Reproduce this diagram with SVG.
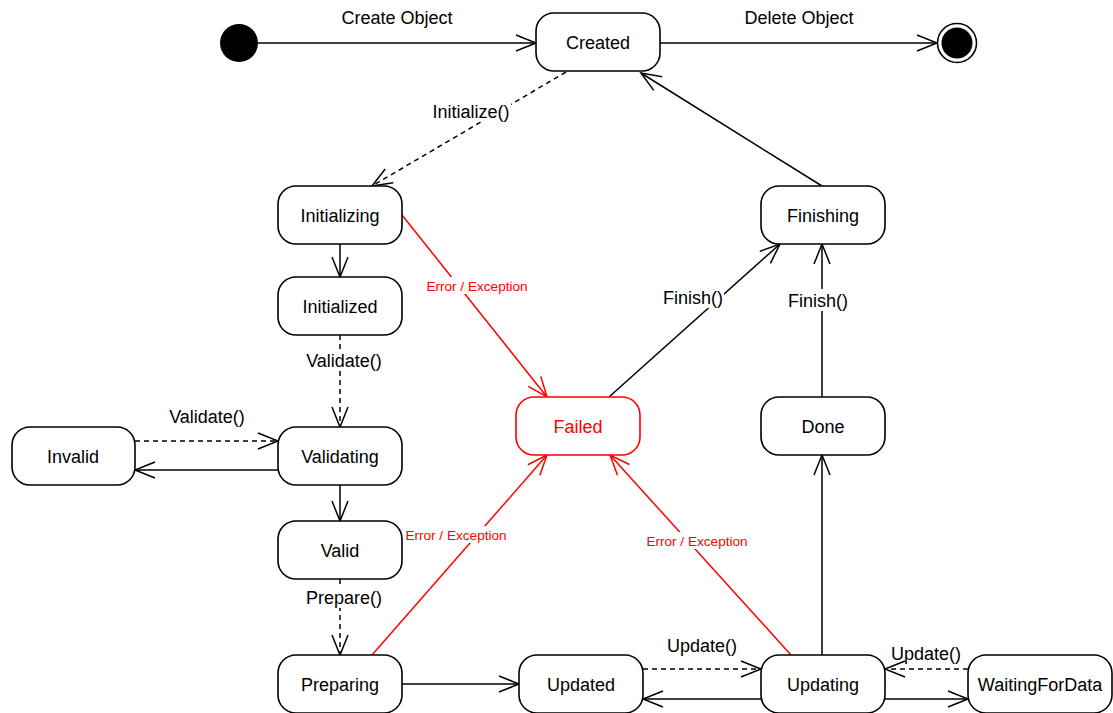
<svg xmlns="http://www.w3.org/2000/svg" width="1113" height="713" viewBox="0 0 1113 713">
<defs>
<style>
.n{fill:#fff;stroke:#000;stroke-width:1.6}
.t{font-family:"Liberation Sans",Arial,sans-serif;font-size:18px;fill:#000;text-anchor:middle}
.r{font-family:"Liberation Sans",Arial,sans-serif;font-size:13.6px;fill:#f00;text-anchor:middle}
.c{fill:none;stroke:#000;stroke-width:1.5}
.d{stroke-dasharray:5,4}
.red{stroke:#f00}
.bg{fill:#fff}
</style>
<marker id="a" viewBox="-22 -10 24 20" refX="0" refY="0" markerWidth="24" markerHeight="20" markerUnits="userSpaceOnUse" orient="auto">
<path d="M-20,-8 L0,0 L-20,8" fill="none" stroke="#000" stroke-width="1.5"/>
</marker>
<marker id="ar" viewBox="-22 -10 24 20" refX="0" refY="0" markerWidth="24" markerHeight="20" markerUnits="userSpaceOnUse" orient="auto">
<path d="M-20,-8 L0,0 L-20,8" fill="none" stroke="#f00" stroke-width="1.5"/>
</marker>
</defs>
<rect width="1113" height="713" fill="#fff"/>
<g id="connectors">
<line class="c" x1="258" y1="43" x2="536" y2="43" marker-end="url(#a)"/>
<line class="c" x1="660" y1="43" x2="937" y2="43" marker-end="url(#a)"/>
<line class="c d" x1="566" y1="72" x2="372" y2="186" marker-end="url(#a)"/>
<line class="c" x1="822" y1="186" x2="641" y2="73" marker-end="url(#a)"/>
<line class="c" x1="340" y1="244" x2="340" y2="277" marker-end="url(#a)"/>
<line class="c d" x1="340" y1="335" x2="340" y2="427" marker-end="url(#a)"/>
<line class="c d" x1="135" y1="441" x2="278" y2="441" marker-end="url(#a)"/>
<line class="c" x1="278" y1="470" x2="135" y2="470" marker-end="url(#a)"/>
<line class="c" x1="340" y1="485" x2="340" y2="521" marker-end="url(#a)"/>
<line class="c d" x1="340" y1="579" x2="340" y2="655" marker-end="url(#a)"/>
<line class="c" x1="402" y1="684" x2="519" y2="684" marker-end="url(#a)"/>
<line class="c d" x1="643" y1="669" x2="761" y2="669" marker-end="url(#a)"/>
<line class="c" x1="761" y1="699" x2="643" y2="699" marker-end="url(#a)"/>
<line class="c" x1="885" y1="699" x2="968" y2="699" marker-end="url(#a)"/>
<line class="c d" x1="968" y1="669" x2="885" y2="669" marker-end="url(#a)"/>
<line class="c" x1="822" y1="655" x2="822" y2="455" marker-end="url(#a)"/>
<line class="c" x1="822" y1="397" x2="822" y2="244" marker-end="url(#a)"/>
<line class="c" x1="609" y1="397" x2="780" y2="244" marker-end="url(#a)"/>
<line class="c red" x1="402" y1="215" x2="547" y2="397" marker-end="url(#ar)"/>
<line class="c red" x1="372" y1="655" x2="547" y2="455" marker-end="url(#ar)"/>
<line class="c red" x1="791" y1="655" x2="610" y2="455" marker-end="url(#ar)"/>
<rect class="bg" x="431" y="100" width="80" height="22"/>
<rect class="bg" x="304" y="349" width="80" height="22"/>
<rect class="bg" x="304" y="586" width="80" height="22"/>
<rect class="bg" x="787" y="289" width="62" height="22"/>
<rect class="bg" x="662" y="286" width="62" height="22"/>
<rect class="bg" x="426" y="277" width="103" height="17"/>
<rect class="bg" x="405" y="526" width="103" height="17"/>
<rect class="bg" x="646" y="532" width="103" height="17"/>
<text class="t" x="397" y="23.5">Create Object</text>
<text class="t" x="799" y="23.5">Delete Object</text>
<text class="t" x="471" y="117.5">Initialize()</text>
<text class="t" x="344" y="366.5">Validate()</text>
<text class="t" x="207" y="422.5">Validate()</text>
<text class="t" x="344" y="603.5">Prepare()</text>
<text class="t" x="702" y="651.5">Update()</text>
<text class="t" x="926" y="659.5">Update()</text>
<text class="t" x="818" y="306.5">Finish()</text>
<text class="t" x="693" y="303.5">Finish()</text>
<text class="r" x="477" y="290.5">Error / Exception</text>
<text class="r" x="456" y="539.5">Error / Exception</text>
<text class="r" x="697" y="545.5">Error / Exception</text>
</g>
<g id="start"><circle cx="239" cy="43" r="19" fill="#000"/></g>
<g id="end"><circle cx="957" cy="43" r="19.5" fill="#fff" stroke="#000" stroke-width="1.6"/><circle cx="957" cy="43" r="15.5" fill="#000"/></g>
<g id="created"><rect class="n" x="536" y="13" width="124" height="58" rx="18"/><text class="t" x="598" y="48.5">Created</text></g>
<g id="initializing"><rect class="n" x="278" y="186" width="124" height="58" rx="18"/><text class="t" x="340" y="221.5">Initializing</text></g>
<g id="initialized"><rect class="n" x="278" y="277" width="124" height="58" rx="18"/><text class="t" x="340" y="312.5">Initialized</text></g>
<g id="validating"><rect class="n" x="278" y="427" width="124" height="58" rx="18"/><text class="t" x="340" y="462.5">Validating</text></g>
<g id="invalid"><rect class="n" x="12" y="427" width="123" height="58" rx="18"/><text class="t" x="73" y="462.5">Invalid</text></g>
<g id="valid"><rect class="n" x="278" y="521" width="124" height="58" rx="18"/><text class="t" x="340" y="556.5">Valid</text></g>
<g id="preparing"><rect class="n" x="278" y="655" width="124" height="58" rx="18"/><text class="t" x="340" y="690.5">Preparing</text></g>
<g id="updated"><rect class="n" x="519" y="655" width="124" height="58" rx="18"/><text class="t" x="581" y="690.5">Updated</text></g>
<g id="updating"><rect class="n" x="761" y="655" width="124" height="58" rx="18"/><text class="t" x="823" y="690.5">Updating</text></g>
<g id="waitingfordata"><rect class="n" x="968" y="655" width="144" height="58" rx="18"/><text class="t" x="1040" y="690.5">WaitingForData</text></g>
<g id="done"><rect class="n" x="761" y="397" width="124" height="58" rx="18"/><text class="t" x="823" y="432.5">Done</text></g>
<g id="finishing"><rect class="n" x="761" y="186" width="124" height="58" rx="18"/><text class="t" x="823" y="221.5">Finishing</text></g>
<g id="failed"><rect class="n" x="516" y="397" width="124" height="58" rx="18" style="stroke:#f00"/><text class="t" x="578" y="432.5" style="fill:#f00">Failed</text></g>
</svg>
